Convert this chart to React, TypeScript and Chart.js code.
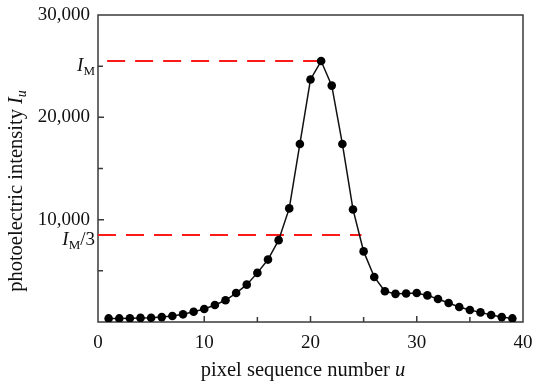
import { useEffect, useRef } from "react";
import { Chart, registerables } from "chart.js";

Chart.register(...registerables);

// ---- data ----
const pixelIndex = [
  1, 2, 3, 4, 5, 6, 7, 8, 9, 10, 11, 12, 13, 14, 15, 16, 17, 18, 19, 20,
  21, 22, 23, 24, 25, 26, 27, 28, 29, 30, 31, 32, 33, 34, 35, 36, 37, 38, 39,
];
const intensity = [
  350, 350, 370, 400, 420, 480, 580, 750, 1000, 1270, 1660, 2120, 2830, 3650,
  4800, 6100, 8000, 11100, 17400, 23700, 25500, 23100, 17400, 11000, 6900,
  4400, 3000, 2750, 2780, 2830, 2600, 2250, 1850, 1460, 1170, 940, 680, 480,
  350,
];
const xTickValues = [0, 10, 20, 30, 40];
const xTickLabels = ["0", "10", "20", "30", "40"];
const yTickValues = [10000, 20000, 30000];
const yTickLabels = ["10,000", "20,000", "30,000"];
const thirdLineEndU = 24.8;

const peakValue = Math.max(...intensity);
const peakU = pixelIndex[intensity.indexOf(peakValue)];
const thirdValue = peakValue / 3;

const FONT = '"Liberation Serif", "Times New Roman", serif';
const TITLE = 20.5;

type Part = { text: string; italic?: boolean; size: number; dy?: number };

function drawRich(
  ctx: CanvasRenderingContext2D,
  parts: Part[],
  x: number,
  y: number,
  align: "left" | "right" | "center"
) {
  let total = 0;
  const widths = parts.map((p) => {
    ctx.font = `${p.italic ? "italic " : ""}${p.size}px ${FONT}`;
    const w = ctx.measureText(p.text).width;
    total += w;
    return w;
  });
  let cx = align === "left" ? x : align === "right" ? x - total : x - total / 2;
  ctx.textAlign = "left";
  ctx.textBaseline = "alphabetic";
  parts.forEach((p, i) => {
    ctx.font = `${p.italic ? "italic " : ""}${p.size}px ${FONT}`;
    ctx.fillText(p.text, cx, y + (p.dy || 0));
    cx += widths[i];
  });
}

const decorPlugin = {
  id: "decor",
  beforeDatasetsDraw(chart: any) {
    const { ctx, chartArea: a, scales } = chart;
    const x = scales.x;
    const y = scales.y;
    ctx.save();
    ctx.strokeStyle = "#3a3a3a";
    ctx.lineWidth = 1.5;
    ctx.strokeRect(a.left, a.top, a.right - a.left, a.bottom - a.top);
    ctx.beginPath();
    for (let v = 5; v < 40; v += 5) {
      const px = x.getPixelForValue(v);
      const len = v % 10 === 0 ? 6 : 5;
      ctx.moveTo(px, a.bottom);
      ctx.lineTo(px, a.bottom - len);
    }
    for (let v = 5000; v < 30000; v += 5000) {
      const py = y.getPixelForValue(v);
      const len = v % 10000 === 0 ? 6 : 5;
      ctx.moveTo(a.left, py);
      ctx.lineTo(a.left + len, py);
    }
    ctx.stroke();
    ctx.restore();
  },
  afterDraw(chart: any) {
    const { ctx, chartArea: a, scales } = chart;
    const y = scales.y;
    ctx.save();
    ctx.fillStyle = "#111";
    const yM = y.getPixelForValue(peakValue);
    drawRich(
      ctx,
      [
        { text: "I", italic: true, size: 19 },
        { text: "M", size: 13, dy: 4 },
      ],
      a.left - 3,
      yM + 10,
      "right"
    );
    const y3 = y.getPixelForValue(thirdValue);
    drawRich(
      ctx,
      [
        { text: "I", italic: true, size: 19 },
        { text: "M", size: 13, dy: 4 },
        { text: "/3", size: 19 },
      ],
      a.left - 3,
      y3 + 10,
      "right"
    );
    // x title
    drawRich(
      ctx,
      [
        { text: "pixel sequence number ", size: TITLE },
        { text: "u", italic: true, size: TITLE },
      ],
      303,
      376,
      "center"
    );
    // y title
    ctx.translate(22, 191);
    ctx.rotate(-Math.PI / 2);
    drawRich(
      ctx,
      [
        { text: "photoelectric intensity ", size: TITLE },
        { text: "I", italic: true, size: TITLE },
        { text: "u", italic: true, size: 14, dy: 4 },
      ],
      0,
      0,
      "center"
    );
    ctx.restore();
  },
};

export default function App() {
  const ref = useRef<HTMLCanvasElement | null>(null);

  useEffect(() => {
    if (!ref.current) return;
    const chart = new Chart(ref.current, {
      type: "line",
      data: {
        datasets: [
          {
            data: pixelIndex.map((u, i) => ({ x: u, y: intensity[i] })),
            borderColor: "#111",
            borderWidth: 1.5,
            pointRadius: 4.3,
            pointBackgroundColor: "#000",
            pointBorderWidth: 0,
            tension: 0,
            order: 0,
          },
          {
            data: [
              { x: peakU, y: peakValue },
              { x: 0, y: peakValue },
            ],
            borderColor: "#ff1a1a",
            borderWidth: 2,
            borderDash: [18, 10],
            pointRadius: 0,
            order: 1,
          },
          {
            data: [
              { x: 0, y: thirdValue },
              { x: thirdLineEndU, y: thirdValue },
            ],
            borderColor: "#ff1a1a",
            borderWidth: 2,
            borderDash: [18, 10],
            pointRadius: 0,
            order: 1,
          },
        ],
      },
      options: {
        animation: false,
        responsive: true,
        maintainAspectRatio: false,
        parsing: false as any,
        layout: { padding: { top: 15, right: 27, left: 0, bottom: 0 } },
        plugins: {
          legend: { display: false },
          tooltip: { enabled: false },
        },
        scales: {
          x: {
            type: "linear",
            min: 0,
            max: 40,
            grid: { display: false, drawTicks: false },
            border: { display: false },
            afterBuildTicks: (s: any) => {
              s.ticks = xTickValues.map((v) => ({ value: v }));
            },
            ticks: {
              autoSkip: false,
              maxRotation: 0,
              padding: 10,
              color: "#111",
              font: { family: FONT, size: 19 },
              callback: (v: any) => {
                const i = xTickValues.indexOf(Number(v));
                return i >= 0 ? xTickLabels[i] : "";
              },
            },
            afterFit: (s: any) => {
              s.height = 65;
              s.paddingLeft = 0;
              s.paddingRight = 0;
            },
          },
          y: {
            type: "linear",
            min: 0,
            max: 30000,
            grid: { display: false, drawTicks: false },
            border: { display: false },
            afterBuildTicks: (s: any) => {
              s.ticks = yTickValues.map((v) => ({ value: v }));
            },
            ticks: {
              autoSkip: false,
              padding: 8,
              color: "#111",
              font: { family: FONT, size: 19 },
              callback: (v: any) => {
                const i = yTickValues.indexOf(Number(v));
                return i >= 0 ? yTickLabels[i] : "";
              },
            },
            afterFit: (s: any) => {
              s.width = 98;
              s.paddingTop = 0;
              s.paddingBottom = 0;
            },
          },
        },
      },
      plugins: [decorPlugin],
    });
    return () => chart.destroy();
  }, []);

  return (
    <div style={{ position: "absolute", left: 0, top: 0, width: 550, height: 387, background: "#fff" }}>
      <canvas ref={ref} />
    </div>
  );
}
